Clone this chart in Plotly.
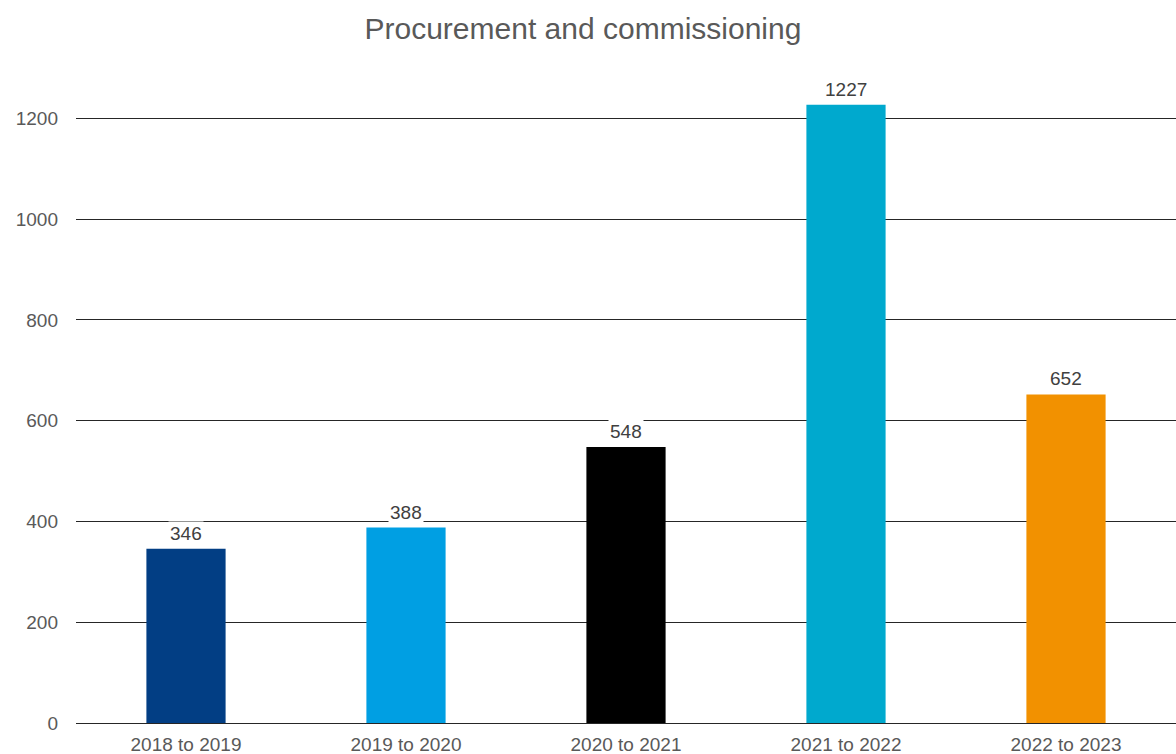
import plotly.graph_objects as go

periods = ["2018 to 2019", "2019 to 2020", "2020 to 2021", "2021 to 2022", "2022 to 2023"]
counts = [346, 388, 548, 1227, 652]
bar_colors = ["#023e84", "#009fe3", "#000000", "#00a9ce", "#f29100"]
y_ticks = [0, 200, 400, 600, 800, 1000, 1200]

FONT = "Liberation Sans, Arial, sans-serif"

fig = go.Figure()
fig.add_trace(go.Bar(
    x=periods,
    y=counts,
    marker=dict(color=bar_colors, line=dict(width=0)),
    hoverinfo="x+y",
))

# value labels sit on a white box so the gridline is hidden behind the text
for p, v in zip(periods, counts):
    fig.add_annotation(
        x=p, y=v, text=str(v), showarrow=False,
        yanchor="bottom", yshift=3,
        font=dict(family=FONT, size=19, color="#404040"),
        bgcolor="white", borderpad=1,
    )

fig.update_layout(
    width=1176, height=754,
    margin=dict(l=76, r=0, t=68, b=31),
    paper_bgcolor="white", plot_bgcolor="white",
    bargap=0.64,
    showlegend=False,
    title=dict(
        text="Procurement and commissioning",
        x=0.4957, xanchor="center", y=0.962, yanchor="middle",
        font=dict(family=FONT, size=30, color="#595959"),
    ),
    font=dict(family=FONT),
)
fig.update_xaxes(
    showgrid=False, showline=False, ticks="", ticklabelstandoff=8,
    tickfont=dict(size=19, color="#595959"),
)
fig.update_yaxes(
    range=[0, 1300], tickvals=y_ticks,
    showgrid=True, gridcolor="#262626", gridwidth=1,
    zeroline=True, zerolinecolor="#262626", zerolinewidth=1,
    showline=False, ticks="", ticklabelstandoff=17,
    tickfont=dict(size=19, color="#595959"),
)

fig.write_html("out.html")
